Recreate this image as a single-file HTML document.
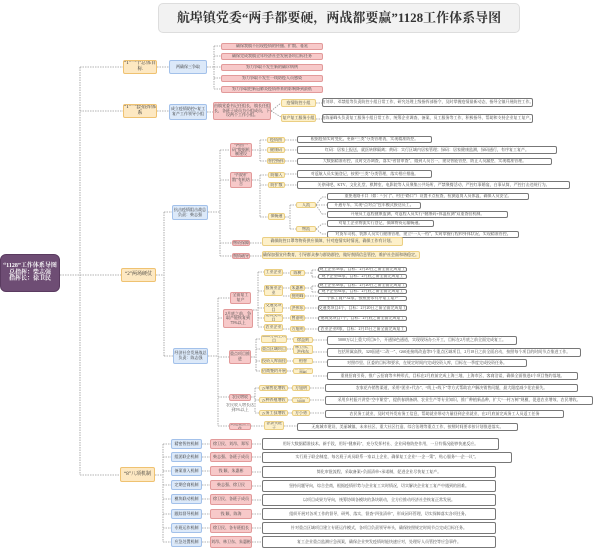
<!DOCTYPE html>
<html><head><meta charset="utf-8"><style>
body{margin:0;width:600px;height:551px;background:#fff;position:relative;overflow:hidden;font-family:"Liberation Serif","Noto Serif CJK SC","Noto Sans CJK SC",serif}
.b{position:absolute;box-sizing:border-box;border:1px solid;border-radius:2px;font-size:4px;display:flex;align-items:center;justify-content:center;text-align:center;line-height:1.15;overflow:hidden;color:#444;white-space:normal}
.o{background:#fde8c2;border-color:#efc271;font-size:5px;color:#333}
.bl{background:#dce9f9;border-color:#a3c1ea;color:#333}
.r{background:#f7c9c9;border-color:#e29a9a}
.y{background:#fdf0c9;border-color:#ebcf83}
.w{background:#fff;border-color:#777;border-radius:2px;white-space:nowrap}
.nw{white-space:nowrap}
svg{position:absolute;left:0;top:0}
</style></head><body>
<svg width="600" height="551"><g fill="none" stroke="#9a9a9a" stroke-width="0.8" stroke-dasharray="1.5 1">
<path d="M60 275H121M80 67V475M80 67H123M80 111H123M80 475H120"/>
<path d="M157 67H169M157 111H169M207 67H214M214 46V89M214 46H221M214 56H221M214 67H221M214 78H221M214 89H221"/>
<path d="M207 112H213M271 111L281 103M271 111L281 117M316 103H322M316 119H322"/>
<path d="M156 275H164M164 212V356M164 212H172M164 356H173"/>
<path d="M208 212H220M220 150V256M220 150H230M220 180H230M220 243H232M220 256H232"/>
<path d="M252 150H260M260 140V161M260 140H267M260 150H267M260 161H267M285 140H297M285 150H297M285 161H297"/>
<path d="M252 180H260M260 175V217M260 175H268M260 185H268M260 217H268M285 174H297M285 185H297"/>
<path d="M285 217H290M290 205V229M290 205H296M290 229H296M316 205L322 197M316 205H327M316 205L322 214M322 197H327M322 214H327M316 229L322 224M316 229L322 234M322 224H327M322 234H327"/>
<path d="M250 243H262M250 256H262"/>
<path d="M208 356H218M218 298V426M218 298H230M218 318H223M218 357H229M218 397H229M218 426H229"/>
<path d="M253 310H258M258 272V327M258 272H264M258 291H264M258 308H264M258 318H264M258 327H264M283 273H290M283 288H290M283 296H290M283 308H290M283 318H290M283 329H290"/>
<path d="M305 273H312M312 270V277M312 270H318M312 277H318M305 288H312M312 286V292M312 286H318M312 292H318M305 296H318M305 308H318M305 318H318M305 329H318"/>
<path d="M251 357H256M256 339V371M256 339H261M256 349H261M256 361H261M256 371H261M287 339H293M287 349H293M287 361H293M287 371H293M313 340H327M313 352H327M313 362H327M313 376H327"/>
<path d="M251 397H255M255 388V413M255 388H259M255 400H259M255 413H259M288 388H292M288 400H292M288 413H292M310 388H325M310 400H325M310 413H325M251 426H264M284 426H297"/>
<path d="M155 475H163M163 444V542M163 444H171M163 457H171M163 471H171M163 485H171M163 499H171M163 514H171M163 528H171M163 542H171"/>
<path d="M202 444H210M202 457H210M202 471H210M202 485H210M202 499H210M202 514H210M202 528H210M202 542H210M252 444H262M252 457H262M252 472H262M252 486H262M252 500H262M252 514H262M252 528H262M252 542H262"/>
</g></svg>
<div class="b nw" style="left:158px;top:3px;width:362px;height:30px;background:#f2f2f2;border-color:#ddd;border-radius:5px;font-size:13px;font-weight:bold;color:#333">航埠镇党委“两手都要硬，两战都要赢”1128工作体系导图</div>
<div class="b" style="left:0;top:254px;width:60px;height:38px;background:#6e4d74;border-color:#5a3b60;border-radius:6px;color:#fff;font-size:6px;font-weight:bold">“1128”工作体系导图<br>总指挥：柴志强<br>指挥长：徐卫民</div>
<div class="b o" style="left:123px;top:60px;width:34px;height:14px">“1”一个总体目标</div>
<div class="b o" style="left:123px;top:104px;width:34px;height:14px">“1”一套指挥体系</div>
<div class="b o" style="left:121px;top:268px;width:35px;height:14px">“2”两场硬仗</div>
<div class="b o" style="left:120px;top:467px;width:35px;height:15px">“8”八项机制</div>
<div class="b bl" style="left:169px;top:60px;width:38px;height:14px">两确保三争取</div>
<div class="b bl" style="left:169px;top:104px;width:38px;height:16px">成立疫情防控+复工复产工作领导小组</div>
<div class="b bl" style="left:172px;top:205px;width:36px;height:15px">抗击疫情阻击战总负责：柴志强</div>
<div class="b bl" style="left:173px;top:348px;width:35px;height:16px">经济社会发展战总负责：陈志强</div>
<div class="b r nw" style="left:221px;top:43px;width:102px;height:7px">确保我镇不出现疫情的传播、扩散、蔓延</div>
<div class="b r nw" style="left:221px;top:53px;width:102px;height:7px">确保完成我镇全年经济社会发展各项目标任务</div>
<div class="b r nw" style="left:221px;top:64px;width:102px;height:7px">努力争取不发生新的确诊病例</div>
<div class="b r nw" style="left:221px;top:75px;width:102px;height:7px">努力争取不发生一线防疫人员感染</div>
<div class="b r nw" style="left:221px;top:86px;width:102px;height:7px">努力争取把新冠肺炎疫情带来的影响降到最低</div>
<div class="b r" style="left:213px;top:102px;width:58px;height:18px">由镇党委书记任组长，镇长任组长，各班子成员为小组成员，下设两个工作小组。</div>
<div class="b y" style="left:281px;top:99px;width:35px;height:8px">疫情防控小组</div>
<div class="b y" style="left:281px;top:114px;width:35px;height:8px">复产复工服务小组</div>
<div class="b w" style="left:322px;top:98px;width:211px;height:9px">由刘昂、邓禁组等负责防控小组日常工作，研究处理上级指挥部指令，及时掌握疫情最新动态，指导全镇开展防控工作。</div>
<div class="b w" style="left:322px;top:114px;width:211px;height:9px">由陈丽峰头负责复工服务小组日常工作，统筹企业调查、备案、员工服务等工作，积极指导、帮助和支持企业复工复产。</div>
<div class="b r" style="left:230px;top:143px;width:22px;height:14px">“两图一码”数据机制建设</div>
<div class="b y" style="left:267px;top:137px;width:18px;height:6px">疫情图</div>
<div class="b y" style="left:267px;top:147px;width:18px;height:6px">健康码</div>
<div class="b y" style="left:267px;top:158px;width:18px;height:6px">智控指挥</div>
<div class="b w" style="left:297px;top:136px;width:135px;height:7px">根据疫情实时变化，更新“三类”分类管理表，实现精准防控。</div>
<div class="b w" style="left:297px;top:146px;width:260px;height:8px">红码：居家上报送，就医转移隔离；黄码：实行区域内居家管理；绿码：居家健康监测，绿码通行，有序复工复产。</div>
<div class="b w" style="left:297px;top:158px;width:255px;height:7px">大数据精准布控，及时交办调查，落实“省督审查”，做到人员合一，建设智能管控，防止人员漏控，实现精准管理。</div>
<div class="b r" style="left:230px;top:172px;width:22px;height:16px">“内防扩散”有机结合</div>
<div class="b y" style="left:268px;top:172px;width:17px;height:6px">防输入</div>
<div class="b y" style="left:268px;top:182px;width:17px;height:6px">防扩散</div>
<div class="b w" style="left:297px;top:170px;width:135px;height:8px">对返航人员实施登记，按照“三类”分类管理，落实相应措施。</div>
<div class="b w" style="left:297px;top:181px;width:273px;height:8px">关停网吧、KTV、文化礼堂、棋牌室、电影院等人员聚集公共场所，严禁聚餐活动，严控红事婚宴，白事从简，严控打击违规行为。</div>
<div class="b y" style="left:268px;top:213px;width:17px;height:7px">保畅通</div>
<div class="b y" style="left:296px;top:202px;width:20px;height:6px">人流</div>
<div class="b y" style="left:296px;top:226px;width:20px;height:6px">物流</div>
<div class="b w" style="left:327px;top:193px;width:202px;height:7px">重要道路卡口（如：“小门”、村庄“路口”）设置卡点检查，检测返岗人员体温，确保人员安全。</div>
<div class="b w" style="left:327px;top:202px;width:94px;height:7px">开通专车，实现“点对点”包车模式接送员工。</div>
<div class="b w" style="left:327px;top:211px;width:181px;height:7px">开展员工返程健康监测，对返程人员实行“健康码+体温检测”双重查验机制。</div>
<div class="b w" style="left:327px;top:220px;width:107px;height:7px">对复工企业物流实行登记，保障物资运输畅通。</div>
<div class="b w" style="left:327px;top:231px;width:192px;height:7px">对货车司机、装卸人员实行健康管理，建立“一人一档”，实时掌握行程和身体状况，实现精准管控。</div>
<div class="b r" style="left:232px;top:240px;width:18px;height:6px">物资保障</div>
<div class="b r" style="left:232px;top:253px;width:18px;height:6px">舆情疏导</div>
<div class="b y nw" style="left:262px;top:237px;width:141px;height:9px">确保防控口罩等物资供应保障，针对疫情实时情况，确保工作有计划。</div>
<div class="b y nw" style="left:262px;top:251px;width:158px;height:8px">确保加强宣传教育，引导群众参与群防群控，做好舆情信息管控，维护社会面和谐稳定。</div>
<div class="b r" style="left:230px;top:292px;width:21px;height:12px">全面复工复产</div>
<div class="b r" style="left:223px;top:309px;width:30px;height:19px">2月底之前，争取产能恢复到75%以上</div>
<div class="b y" style="left:264px;top:269px;width:19px;height:7px">工业企业</div>
<div class="b y" style="left:264px;top:285px;width:19px;height:11px">服务业企业</div>
<div class="b y" style="left:264px;top:303px;width:19px;height:10px">交通类项目</div>
<div class="b y" style="left:264px;top:314px;width:19px;height:8px">建筑类项目</div>
<div class="b y" style="left:264px;top:324px;width:19px;height:7px">农业企业</div>
<div class="b y" style="left:290px;top:270px;width:15px;height:6px">陈树</div>
<div class="b y" style="left:290px;top:285px;width:15px;height:6px">朱惠彬</div>
<div class="b y" style="left:290px;top:293px;width:15px;height:6px">倪明峰</div>
<div class="b y" style="left:290px;top:305px;width:15px;height:6px">洪伟东</div>
<div class="b y" style="left:290px;top:315px;width:15px;height:6px">曾嘉明</div>
<div class="b y" style="left:290px;top:326px;width:15px;height:6px">方旭明</div>
<div class="b w" style="left:318px;top:267px;width:89px;height:5px">规上企业58家，目标：2月20日之前全面完成复工</div>
<div class="b w" style="left:318px;top:274px;width:89px;height:5px">规下企业64家，目标：2月底之前全面完成复工</div>
<div class="b w" style="left:318px;top:283px;width:89px;height:5px">规上企业38家，目标：2月20日之前全面完成复工</div>
<div class="b w" style="left:318px;top:289px;width:89px;height:5px">规下企业84家，目标：2月底之前全面完成复工</div>
<div class="b w" style="left:318px;top:296px;width:89px;height:5px">个体工商户32家，按照要求有序复工复产</div>
<div class="b w" style="left:318px;top:305px;width:89px;height:6px">交通类项目4个，目标：2月20日之前全面完成复工</div>
<div class="b w" style="left:318px;top:316px;width:89px;height:5px">建筑类项目7个，目标：2月底之前全面完成复工</div>
<div class="b w" style="left:318px;top:326px;width:89px;height:6px">农业企业8家，目标：2月15日之前全面完成复工</div>
<div class="b r" style="left:229px;top:350px;width:22px;height:14px">重点项目推进</div>
<div class="b y" style="left:261px;top:335px;width:26px;height:8px">5000万以上项目</div>
<div class="b y" style="left:261px;top:346px;width:26px;height:6px">重点区域项目</div>
<div class="b y" style="left:261px;top:358px;width:26px;height:6px">投资入库面挂</div>
<div class="b y" style="left:261px;top:368px;width:26px;height:6px">招商签约开展</div>
<div class="b y" style="left:293px;top:337px;width:20px;height:6px">徐益则</div>
<div class="b y" style="left:293px;top:345px;width:20px;height:9px">林卫东、洪伟东</div>
<div class="b y" style="left:293px;top:358px;width:20px;height:6px">柏智</div>
<div class="b y" style="left:293px;top:368px;width:20px;height:6px">薛强、朱惠彬</div>
<div class="b w" style="left:327px;top:336px;width:190px;height:9px">5000万以上重大项目6个，开通绿色通道，实现现场办公开工，目标在2月底之前全面完成复工。</div>
<div class="b w" style="left:327px;top:348px;width:254px;height:9px">包括所属高铁、320国道“二改一”、G60连接线改造等5个重点区域项目，2月18日之前全面启动，按照每个项目的时间节点推进工作。</div>
<div class="b w" style="left:327px;top:359px;width:200px;height:8px">对照市里、区委的目标和要求，在规定时间内完成投资入库，目标在一季度完成投资任务。</div>
<div class="b w" style="left:327px;top:372px;width:251px;height:8px">重视招商引资，推广云招商等多种形式，目标在2月底前完成上海三地、上海市区、客商洽谈，确保全面推进4个项目签约落地。</div>
<div class="b r" style="left:229px;top:394px;width:22px;height:7px">农民增收</div>
<div class="b" style="left:225px;top:403px;width:30px;height:9px;border:none;color:#555">农民收入增长达到5%以上</div>
<div class="b y" style="left:259px;top:385px;width:29px;height:6px">云端售花增收</div>
<div class="b y" style="left:259px;top:397px;width:29px;height:6px">云种养殖增收</div>
<div class="b y" style="left:259px;top:410px;width:29px;height:6px">云务工技增收</div>
<div class="b y" style="left:292px;top:385px;width:18px;height:6px">方旭明</div>
<div class="b y" style="left:292px;top:397px;width:18px;height:6px">田欣、方旭明</div>
<div class="b y" style="left:292px;top:410px;width:18px;height:6px">方小勇</div>
<div class="b w" style="left:325px;top:384px;width:253px;height:8px">农家花卉销售渠道，采用“团业+代办”、“线上+线下”等方式帮助农户解决销售问题，最大限度减少花农损失。</div>
<div class="b w" style="left:325px;top:396px;width:268px;height:9px">采用乡村振兴讲堂“空中课堂”，提供春耕备耕、农业生产等专业知识，推广种植新品种，扩大“一村万树”规模，促进农业增效、农民增收。</div>
<div class="b w" style="left:325px;top:410px;width:239px;height:8px">农民务工就业，及时对外发布务工信息，帮助就业带动力量回到企业就业，在2月底前完成务工人员返工任务</div>
<div class="b r" style="left:229px;top:423px;width:22px;height:7px">其他重点工作</div>
<div class="b y" style="left:264px;top:421px;width:20px;height:9px">各条头班子</div>
<div class="b w" style="left:297px;top:423px;width:221px;height:8px">无废城市建设、美丽城镇、未来社区、重大社区打造、综合治理等重点工作，按照时间要求按计划推进落实。</div>
<div class="b bl" style="left:171px;top:439px;width:31px;height:10px">精密智控机制</div>
<div class="b bl" style="left:171px;top:452px;width:31px;height:10px">组团联企机制</div>
<div class="b bl" style="left:171px;top:466px;width:31px;height:10px">备案准入机制</div>
<div class="b bl" style="left:171px;top:480px;width:31px;height:10px">定期会商机制</div>
<div class="b bl" style="left:171px;top:494px;width:31px;height:10px">模块联动机制</div>
<div class="b bl" style="left:171px;top:509px;width:31px;height:10px">跟踪督导机制</div>
<div class="b bl" style="left:171px;top:523px;width:31px;height:10px">专班运作机制</div>
<div class="b bl" style="left:171px;top:537px;width:31px;height:10px">应急处置机制</div>
<div class="b r" style="left:210px;top:439px;width:42px;height:10px">徐卫民、刘昂、郑军</div>
<div class="b r" style="left:210px;top:452px;width:42px;height:10px">柴志强、各班子成员</div>
<div class="b r" style="left:210px;top:466px;width:42px;height:10px">钱 颖、朱惠彬</div>
<div class="b r" style="left:210px;top:480px;width:42px;height:10px">柴志强、徐卫民</div>
<div class="b r" style="left:210px;top:494px;width:42px;height:11px">徐卫民、各班子成员</div>
<div class="b r" style="left:210px;top:509px;width:42px;height:10px">钱 颖、陈海</div>
<div class="b r" style="left:210px;top:523px;width:42px;height:10px">徐卫民、各专班组长</div>
<div class="b r" style="left:210px;top:536px;width:42px;height:12px">刘昂、林卫东、朱惠彬</div>
<div class="b w" style="left:262px;top:438px;width:237px;height:12px">用好大数据精准技术、新手段，用好“健康码”，充分发挥村社、企业网格防控作用，一旦有情况能够快速反应。</div>
<div class="b w" style="left:262px;top:452px;width:250px;height:11px">实行班子联企制度，每名班子成员联系一家以上企业，确保复工企业“一企一策”，贴心服务“一企一议”。</div>
<div class="b w" style="left:262px;top:466px;width:234px;height:12px">简化审批流程，采取备案+负面清单+承诺制，促进企业尽快复工复产。</div>
<div class="b w" style="left:262px;top:480px;width:234px;height:12px">坚持问题导向，综合会商，根据疫情形势与企业复工实时情况，切实解决企业复工复产中遇到的困难。</div>
<div class="b w" style="left:262px;top:494px;width:234px;height:12px">以项目成果为导向，统筹协调各模块的条块联动，全方位推动经济社会恢复正常发展。</div>
<div class="b w" style="left:262px;top:508px;width:234px;height:12px">组织开展对各项工作的督导，研判、落实，督查“四张清单”，形成闭环管理，切实保障落实各项任务。</div>
<div class="b w" style="left:262px;top:522px;width:234px;height:12px">针对重点区域项目建立专班运作模式，各项目负责领导牵头，确保按照规定时间节点完成目标任务。</div>
<div class="b w" style="left:262px;top:536px;width:234px;height:12px">复工企业重点监测应急预案，确保企业突发疫情时能快速应对，处理好人员管控等应急事件。</div>
</body></html>
